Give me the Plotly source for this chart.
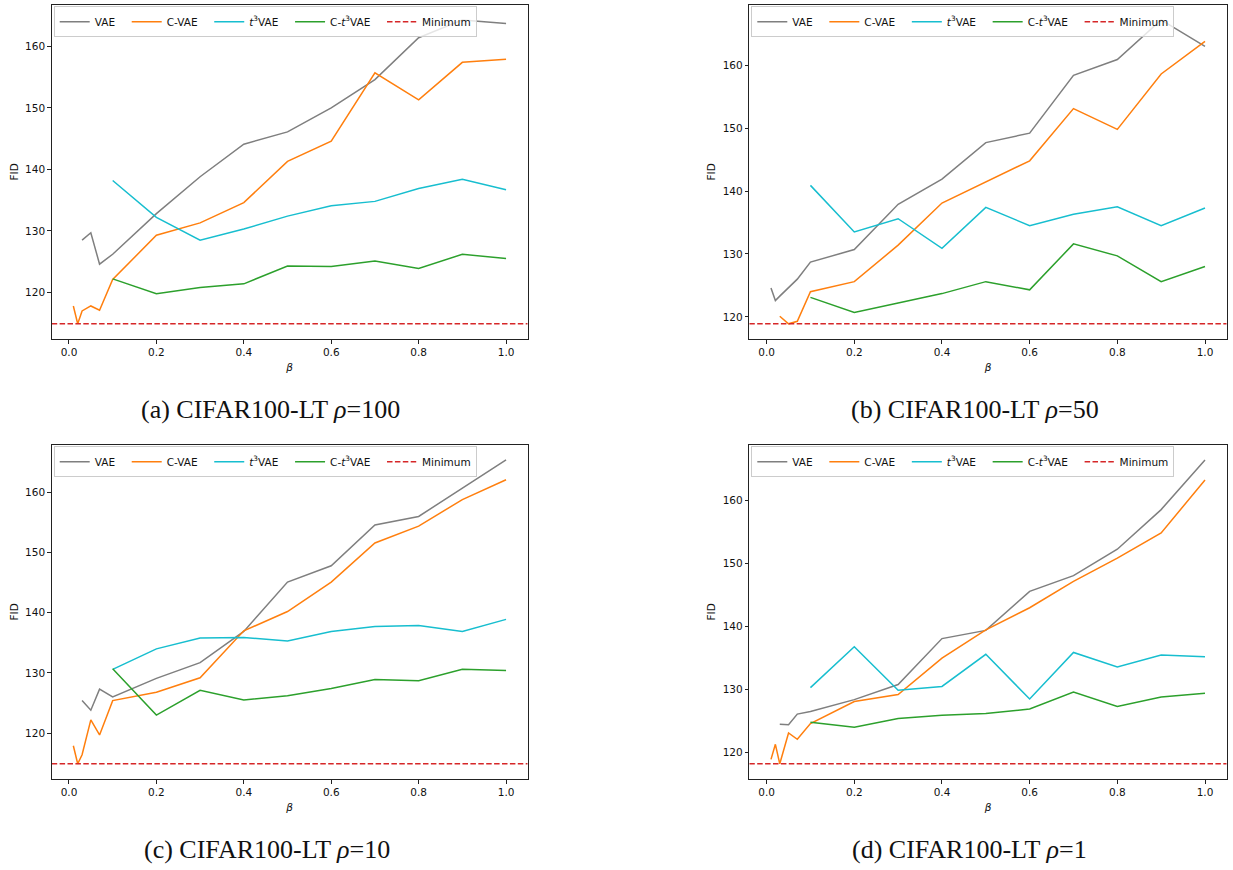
import plotly.graph_objects as go

# ---------------- data ----------------
beta_main = [0.1, 0.2, 0.3, 0.4, 0.5, 0.6, 0.7, 0.8, 0.9, 1.0]
beta_low3 = [0.03, 0.05, 0.07]
beta_low5 = [0.01, 0.02, 0.03, 0.05, 0.07]

NB = "\u00a0\u00a0"
series_names = ["VAE" + NB, "C-VAE" + NB, "<i>t</i><sup>3</sup>VAE" + NB,
                "C-<i>t</i><sup>3</sup>VAE" + NB]
min_name = "Minimum"
captions = ["(a) CIFAR100-LT <i>ρ</i>=100", "(b) CIFAR100-LT <i>ρ</i>=50",
            "(c) CIFAR100-LT <i>ρ</i>=10", "(d) CIFAR100-LT <i>ρ</i>=1"]

# (a) rho=100
a_vae_x = beta_low3 + beta_main
a_vae = [128.5, 129.7, 124.6, 126.2, 132.8, 138.8, 144.1, 146.1, 150.0, 154.6, 161.4, 164.3, 163.7]
a_cvae_x = beta_low5 + beta_main
a_cvae = [117.8, 114.9, 117.0, 117.8, 117.1, 122.1, 129.3, 131.3, 134.6, 141.3, 144.6, 155.7, 151.3, 157.4, 157.9]
a_t3 = [138.2, 132.2, 128.5, 130.3, 132.4, 134.1, 134.8, 136.9, 138.4, 136.7]
a_ct3 = [122.2, 119.8, 120.8, 121.4, 124.3, 124.2, 125.1, 123.9, 126.2, 125.5]
a_min = 114.9

# (b) rho=50
b_vae_x = beta_low5 + beta_main
b_vae = [124.6, 122.6, 123.3, 124.6, 126.0, 128.7, 130.7, 137.9, 141.9, 147.7, 149.2, 158.4, 160.9, 167.2, 163.0]
b_cvae_x = beta_low3 + beta_main
b_cvae = [120.1, 118.9, 119.3, 124.0, 125.6, 131.4, 138.1, 141.5, 144.8, 153.1, 149.8, 158.6, 163.8]
b_t3 = [140.9, 133.5, 135.6, 130.9, 137.4, 134.5, 136.3, 137.5, 134.5, 137.3]
b_ct3 = [123.1, 120.7, 122.2, 123.7, 125.6, 124.3, 131.6, 129.7, 125.6, 128.0]
b_min = 118.9

# (c) rho=10
c_vae_x = beta_low3 + beta_main
c_vae = [125.4, 123.8, 127.3, 126.0, 129.1, 131.7, 136.9, 145.1, 147.8, 154.6, 156.0, 160.7, 165.4]
c_cvae_x = beta_low5 + beta_main
c_cvae = [117.9, 114.9, 116.4, 122.2, 119.7, 125.4, 126.8, 129.2, 137.0, 140.2, 145.1, 151.6, 154.4, 158.8, 162.1]
c_t3 = [130.6, 134.0, 135.8, 135.9, 135.3, 136.9, 137.7, 137.9, 136.9, 138.9]
c_ct3 = [130.7, 123.0, 127.1, 125.5, 126.2, 127.4, 128.9, 128.7, 130.6, 130.4]
c_min = 114.9

# (d) rho=1
d_vae_x = beta_low3 + beta_main
d_vae = [124.5, 124.4, 126.1, 126.5, 128.4, 130.8, 138.1, 139.4, 145.6, 148.1, 152.3, 158.6, 166.5]
d_cvae_x = beta_low5 + beta_main
d_cvae = [118.9, 121.3, 118.2, 123.1, 122.1, 124.6, 128.1, 129.2, 135.0, 139.5, 143.0, 147.2, 150.9, 154.9, 163.3]
d_t3 = [130.3, 136.8, 129.9, 130.5, 135.6, 128.5, 135.9, 133.6, 135.5, 135.2]
d_ct3 = [124.8, 124.0, 125.4, 125.9, 126.2, 126.9, 129.6, 127.3, 128.8, 129.4]
d_min = 118.2

panels = [
    (a_vae_x, a_vae, a_cvae_x, a_cvae, a_t3, a_ct3, a_min),
    (b_vae_x, b_vae, b_cvae_x, b_cvae, b_t3, b_ct3, b_min),
    (c_vae_x, c_vae, c_cvae_x, c_cvae, c_t3, c_ct3, c_min),
    (d_vae_x, d_vae, d_cvae_x, d_cvae, d_t3, d_ct3, d_min),
]

colors = ["#7f7f7f", "#ff7f0e", "#17becf", "#2ca02c"]
min_color = "#d62728"

W, H = 1233, 870
# axes boxes in pixels (left, right, top, bottom)
boxes = [
    (51.7, 527.7, 4.7, 339.0),
    (749.3, 1226.7, 4.7, 339.0),
    (51.7, 527.7, 444.7, 779.0),
    (749.3, 1226.7, 444.7, 779.0),
]
cap_pos = [(270, 409), (975, 409), (267, 849), (969, 849)]

fig = go.Figure()
font_family = "DejaVu Sans"
fs = 10.5

layout = dict(width=W, height=H, margin=dict(l=0, r=0, t=0, b=0, autoexpand=False),
              paper_bgcolor="white", plot_bgcolor="white",
              font=dict(family=font_family, size=fs, color="#111"),
              annotations=[])

for i, (vx, vy, cx, cy, t3, ct3, mn) in enumerate(panels):
    k = "" if i == 0 else str(i + 1)
    xa, ya = "x" + k, "y" + k
    leg = "legend" + k
    allx = vx + cx + beta_main
    ally = vy + cy + t3 + ct3 + [mn]
    xlo, xhi = min(allx), max(allx)
    ylo, yhi = min(ally), max(ally)
    xpad, ypad = 0.05 * (xhi - xlo), 0.05 * (yhi - ylo)
    xr = [xlo - xpad, xhi + xpad]
    yr = [ylo - ypad, yhi + ypad]

    data = [(vx, vy), (cx, cy), (beta_main, t3), (beta_main, ct3)]
    for j, (xs, ys) in enumerate(data):
        fig.add_trace(go.Scatter(x=xs, y=ys, mode="lines", name=series_names[j],
                                 line=dict(color=colors[j], width=1.5),
                                 xaxis=xa, yaxis=ya, legend=leg, showlegend=True))
    fig.add_trace(go.Scatter(x=xr, y=[mn, mn], mode="lines", name=min_name,
                             line=dict(color=min_color, width=1.5, dash="5.5px,2.4px"),
                             xaxis=xa, yaxis=ya, legend=leg, showlegend=True))

    l, r, t, b = boxes[i]
    axis_common = dict(showline=True, linecolor="#222", linewidth=1, mirror=True,
                       ticks="outside", ticklen=3.5, tickwidth=1, tickcolor="#222",
                       showgrid=False, zeroline=False, automargin=False,
                       tickfont=dict(family=font_family, size=fs, color="#111"))
    layout["xaxis" + k] = dict(domain=[l / W, r / W], range=xr, anchor=ya,
                               tickvals=[0, 0.2, 0.4, 0.6, 0.8, 1.0], tickformat=".1f",
                               title=dict(text="<i>β</i>", standoff=6,
                                          font=dict(family=font_family, size=fs)),
                               **axis_common)
    layout["yaxis" + k] = dict(domain=[1 - b / H, 1 - t / H], range=yr, anchor=xa,
                               tickvals=[120, 130, 140, 150, 160],
                               title=dict(text="FID", standoff=4,
                                          font=dict(family=font_family, size=fs)),
                               **axis_common)
    layout[leg] = dict(orientation="h", x=(l + 2) / W, y=1 - (t + 1.5) / H,
                       xanchor="left", yanchor="top",
                       bgcolor="rgba(255,255,255,0.8)", bordercolor="#cccccc",
                       borderwidth=1, font=dict(family=font_family, size=fs, color="#111"),
                       traceorder="normal", itemwidth=30)
    cx_, cy_ = cap_pos[i]
    layout["annotations"].append(dict(text=captions[i], x=cx_ / W, y=1 - cy_ / H,
                                      xref="paper", yref="paper", showarrow=False,
                                      xanchor="center", yanchor="middle",
                                      font=dict(family="Liberation Serif", size=26, color="#111")))

fig.update_layout(**layout)
fig.write_html("out.html", config={"displayModeBar": False},
               post_script="document.body.style.margin='0px';")
